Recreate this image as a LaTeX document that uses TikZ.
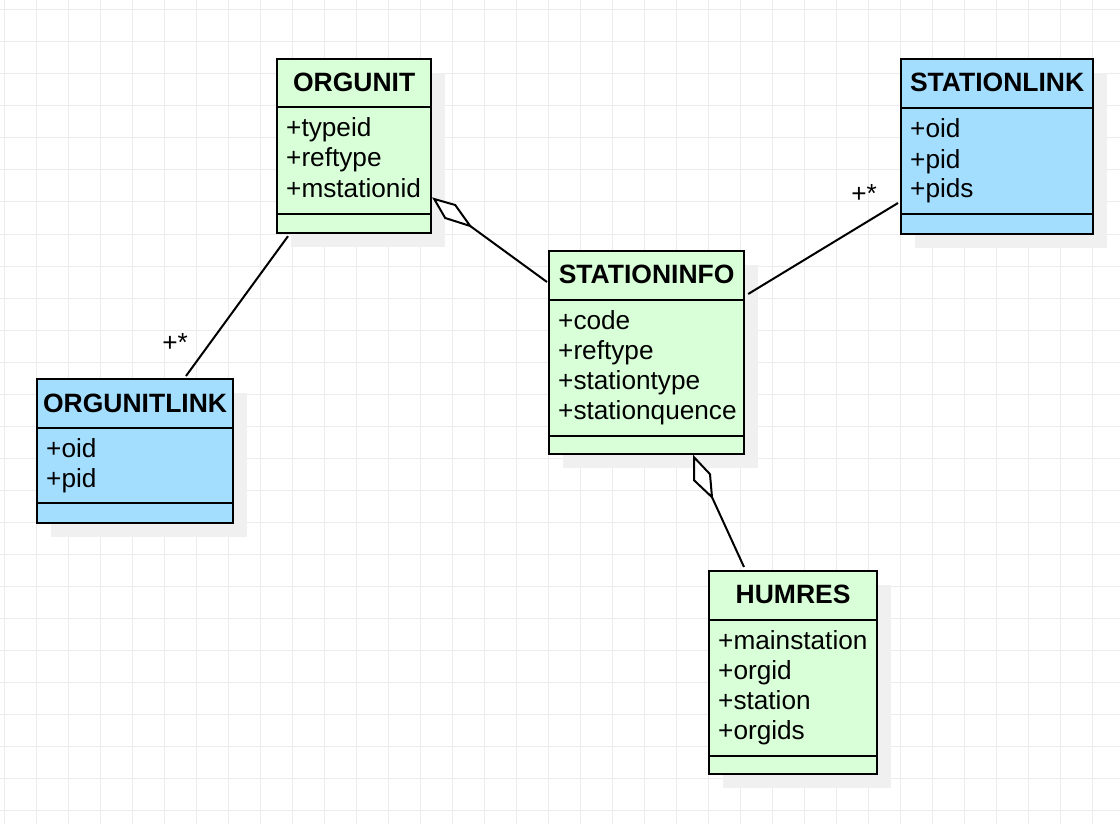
\documentclass[tikz,border=0pt]{standalone}
\usepackage{fontspec}
\setmainfont{Liberation Sans}
\usetikzlibrary{calc,shadows}
\definecolor{classgreen}{RGB}{217,255,217}
\definecolor{classblue}{RGB}{163,222,255}
\definecolor{gridgray}{RGB}{236,236,236}
\definecolor{shadowgray}{RGB}{240,240,240}
\tikzset{
  umlclass/.style={draw=black, line width=2.2pt, rectangle, inner sep=0pt, anchor=north west,
    drop shadow={shadow xshift=14pt, shadow yshift=-14pt, fill=shadowgray, opacity=1}},
  divider/.style={draw=black, line width=2.2pt},
  classtitle/.style={anchor=base, inner sep=0pt, font=\fontsize{26.5}{30}\selectfont\bfseries},
  attr/.style={anchor=base west, inner sep=0pt, font=\fontsize{26.2}{30}\selectfont},
  conn/.style={draw=black, line width=2pt, line join=miter},
  diamondtip/.style={draw=black, fill=white, line width=2pt, line join=miter},
  multlabel/.style={anchor=center, inner sep=0pt, font=\fontsize{26.2}{30}\selectfont},
  gridline/.style={draw=gridgray, line width=1pt}
}
\begin{document}
\begin{tikzpicture}[x=1pt, y=-1pt]
\useasboundingbox (0,0) rectangle (1120,824);
\fill[white] (0,0) rectangle (1120,824);
% grid
\foreach \gx in {4,36,...,1120} \draw[gridline] (\gx,0) -- (\gx,824);
\foreach \gy in {10,42,...,824} \draw[gridline] (0,\gy) -- (1120,\gy);

% ORGUNIT
\node[umlclass, fill=classgreen, minimum width=154pt, minimum height=174pt] (orgunit) at (276,58) {};
\draw[divider] ($(orgunit.north west)+(0,49)$) -- ($(orgunit.north east)+(0,49)$);
\draw[divider] ($(orgunit.north west)+(0,156)$) -- ($(orgunit.north east)+(0,156)$);
\node[classtitle] (orgunit-t) at ($(orgunit.north)+(0,34)$) {ORGUNIT};
\foreach \t [count=\i] in {+typeid,+reftype,+mstationid}
  \node[attr] (orgunit-a\i) at ($(orgunit.north west)+(10,49+30*\i)$) {\t};

% STATIONINFO
\node[umlclass, fill=classgreen, minimum width=195pt, minimum height=203pt] (stationinfo) at (548,250) {};
\draw[divider] ($(stationinfo.north west)+(0,50)$) -- ($(stationinfo.north east)+(0,50)$);
\draw[divider] ($(stationinfo.north west)+(0,186)$) -- ($(stationinfo.north east)+(0,186)$);
\node[classtitle] (stationinfo-t) at ($(stationinfo.north)+(0,33)$) {STATIONINFO};
\foreach \t [count=\i] in {+code,+reftype,+stationtype,+stationquence}
  \node[attr] (stationinfo-a\i) at ($(stationinfo.north west)+(10,49+30*\i)$) {\t};

% STATIONLINK
\node[umlclass, fill=classblue, minimum width=192pt, minimum height=175pt] (stationlink) at (900,58) {};
\draw[divider] ($(stationlink.north west)+(0,50)$) -- ($(stationlink.north east)+(0,50)$);
\draw[divider] ($(stationlink.north west)+(0,156)$) -- ($(stationlink.north east)+(0,156)$);
\node[classtitle] (stationlink-t) at ($(stationlink.north)+(0,34)$) {STATIONLINK};
\foreach \t [count=\i] in {+oid,+pid,+pids}
  \node[attr] (stationlink-a\i) at ($(stationlink.north west)+(10,50+30*\i)$) {\t};

% ORGUNITLINK
\node[umlclass, fill=classblue, minimum width=196pt, minimum height=144pt] (orgunitlink) at (36,378) {};
\draw[divider] ($(orgunitlink.north west)+(0,50)$) -- ($(orgunitlink.north east)+(0,50)$);
\draw[divider] ($(orgunitlink.north west)+(0,125)$) -- ($(orgunitlink.north east)+(0,125)$);
\node[classtitle] (orgunitlink-t) at ($(orgunitlink.north)+(0,34)$) {ORGUNITLINK};
\foreach \t [count=\i] in {+oid,+pid}
  \node[attr] (orgunitlink-a\i) at ($(orgunitlink.north west)+(10,49+30*\i)$) {\t};

% HUMRES
\node[umlclass, fill=classgreen, minimum width=168pt, minimum height=203pt] (humres) at (708,570) {};
\draw[divider] ($(humres.north west)+(0,50)$) -- ($(humres.north east)+(0,50)$);
\draw[divider] ($(humres.north west)+(0,186)$) -- ($(humres.north east)+(0,186)$);
\node[classtitle] (humres-t) at ($(humres.north)+(0,33)$) {HUMRES};
\foreach \t [count=\i] in {+mainstation,+orgid,+station,+orgids}
  \node[attr] (humres-a\i) at ($(humres.north west)+(10,49+30*\i)$) {\t};

% ORGUNIT <>-- STATIONINFO
\draw[conn] ($(orgunit.north east)+(38,168)$) -- ($(stationinfo.north west)+(-1,32)$);
\draw[diamondtip] ($(orgunit.north east)+(2,141)$) -- ($(orgunit.north east)+(23,147)$)
  -- ($(orgunit.north east)+(38,168)$) -- ($(orgunit.north east)+(13,160)$) -- cycle;

% ORGUNIT -- ORGUNITLINK
\draw[conn] ($(orgunit.south west)+(12,2)$) -- ($(orgunitlink.north west)+(150,-2)$);
\node[multlabel] (m1) at (175,342) {+*};

% STATIONINFO -- STATIONLINK
\draw[conn] ($(stationinfo.north east)+(3,44)$) -- ($(stationlink.north west)+(-2,145)$);
\node[multlabel] (m2) at (864,193) {+*};

% STATIONINFO <>-- HUMRES
\draw[conn] ($(stationinfo.south west)+(164,42)$) -- ($(humres.north west)+(36,-3)$);
\draw[diamondtip] ($(stationinfo.south west)+(146,2)$) -- ($(stationinfo.south west)+(146,25)$)
  -- ($(stationinfo.south west)+(164,42)$) -- ($(stationinfo.south west)+(162,19)$) -- cycle;
\end{tikzpicture}
\end{document}
